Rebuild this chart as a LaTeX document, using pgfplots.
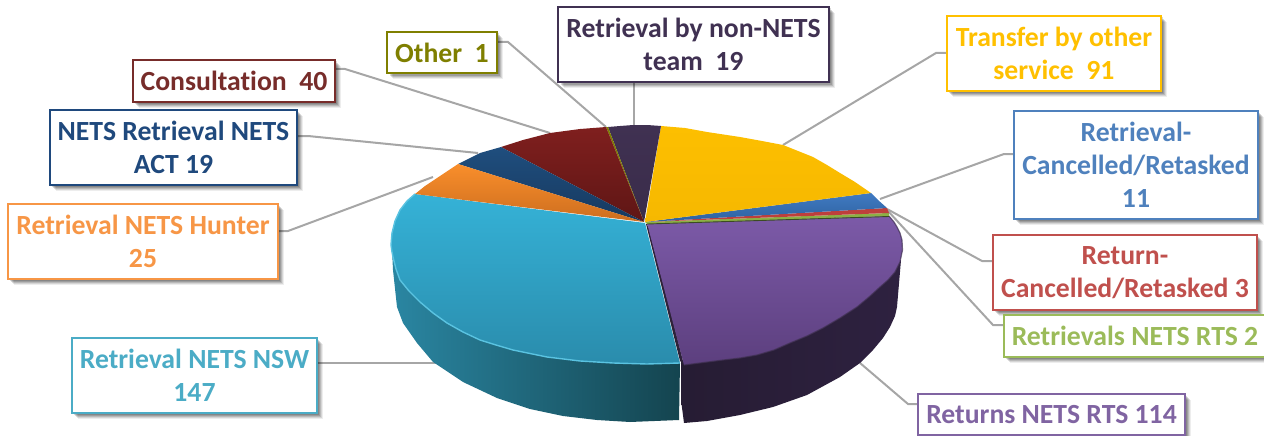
\documentclass[border=0pt]{standalone}
\usepackage{fontspec}
\setmainfont[Ligatures=NoCommon]{Carlito}
\usepackage{pgfplots}
\pgfplotsset{compat=1.18}
\usetikzlibrary{shadows}
\definecolor{cCyan}{HTML}{4BACC6}
\definecolor{cPurple}{HTML}{8064A2}
\definecolor{cYellow}{HTML}{FFC000}
\definecolor{cBlue}{HTML}{4F81BD}
\definecolor{cRed}{HTML}{C0504D}
\definecolor{cGreen}{HTML}{9BBB59}
\definecolor{cNavy}{HTML}{1F497D}
\definecolor{cOrange}{HTML}{F79646}
\definecolor{cMaroon}{HTML}{772C2A}
\definecolor{cOlive}{HTML}{7F7F00}
\definecolor{cDark}{HTML}{403152}
\definecolor{wallA}{HTML}{2A86A2}
\definecolor{wallB}{HTML}{1D6073}
\definecolor{wallC}{HTML}{14444F}
\definecolor{pwallA}{HTML}{261C33}
\definecolor{pwallB}{HTML}{2E2140}
\tikzset{
  lab/.style={draw=#1, text=#1, fill=white, line width=2pt, inner sep=0pt, align=center,
    font=\fontsize{27.7}{33}\selectfont\bfseries,
    drop shadow={shadow xshift=6pt,shadow yshift=-6pt,opacity=.07,fill=black},
    drop shadow={shadow xshift=5pt,shadow yshift=-5pt,opacity=.10,fill=black},
    drop shadow={shadow xshift=4pt,shadow yshift=-4pt,opacity=.13,fill=black},
    drop shadow={shadow xshift=3pt,shadow yshift=-3pt,opacity=.15,fill=black},
    drop shadow={shadow xshift=1.5pt,shadow yshift=-1.5pt,opacity=.15,fill=black}},
  lead/.style={draw={rgb,255:red,166;green,166;blue,166}, line width=2pt}
}
\begin{document}
\begin{tikzpicture}
\useasboundingbox (0,0) rectangle (1264pt,436pt);
\begin{axis}[
  width=1264pt, height=436pt, scale only axis, hide axis, clip=false,
  xmin=0, xmax=1264, ymin=0, ymax=436, y dir=reverse]
\addplot[draw=none, forget plot] coordinates {(0,0)(1264,436)};
% leaders
\addplot[lead] coordinates {(497,42)(508,42)(606,127)};
\addplot[lead] coordinates {(634,82)(634,126)};
\addplot[lead] coordinates {(335,69)(345,69)(550,133)};
\addplot[lead] coordinates {(297,136)(308,136)(478,153)};
\addplot[lead] coordinates {(278,231)(288,231)(433,177)};
\addplot[lead] coordinates {(317,363)(436,363)};
\addplot[lead] coordinates {(860,363)(908,404)(918,404)};
\addplot[lead] coordinates {(947,53)(936,53)(783,145)};
\addplot[lead] coordinates {(1014,154)(1004,154)(880,199)};
\addplot[lead] coordinates {(993,261)(982,261)(887,209)};
\addplot[lead] coordinates {(1004,325)(993,325)(888,211)};
% side walls
\addplot[draw=none, left color=wallA, middle color=wallB, right color=wallC] coordinates {
 (392,250)(393,270)(397,307)(403,323)(417,343)(433,362)(463,382)(497,398)(530,409)(563,416)(597,420)(630,422)(679,420)(680,363)(647,350)(500,300)(392,250)};
\addplot[draw=none, left color=pwallA, right color=pwallB] coordinates {
 (681,362)(681,400)(684,423)(707,421)(740,415)(773,407)(807,395)(840,377)(860,363)(873,350)(883,338)(890,327)(895,316)(897,307)(901,260)(800,300)(681,362)};
% tops
\addplot[draw=none, top color={rgb,255:red,53;green,178;blue,215}, bottom color={rgb,255:red,42;green,140;blue,172}] coordinates {
 (645,223)(415,194)(407,201)(400,210)(395,221)(392,233)(391,245)(392,252)(393,257)(396,269)(400,280)(409,291)(420,302)(433,313)(447,323)(463,332)(480,340)(496,345)(513,350)(547,357)(580,361)(613,363)(647,364)(680,363)};
\addplot[draw=none, fill=cDark!70!black] coordinates {(646,224)(649,224)(684,365)(680,361)};
\addplot[draw=none, top color={rgb,255:red,124;green,90;blue,168}, bottom color={rgb,255:red,92;green,63;blue,126}] coordinates {
 (647,223)(889,216)(894,222)(897,227)(900,233)(902,240)(902.5,250)(900,262)(895,272)(888,280)(880,287)(869,297)(857,307)(840,318)(823,328)(807,336)(790,343)(774,350)(757,355)(740,358)(723,360)(684,365)};
\addplot[draw=none, fill={rgb,255:red,140;green,176;blue,69}] coordinates {(645,222)(889,213)(889,216)(647,224)};
\addplot[draw=none, fill={rgb,255:red,190;green,63;blue,60}] coordinates {(645,222)(887,208)(889,213)};
\addplot[draw=none, top color={rgb,255:red,64;green,122;blue,194}, bottom color={rgb,255:red,46;green,98;blue,160}] coordinates {(645,222)(871,193)(875,197)(878,200)(887,208)};
\addplot[draw=none, top color={rgb,255:red,253;green,191;blue,0}, bottom color={rgb,255:red,246;green,184;blue,0}] coordinates {
 (645,222)(661,126)(685,128)(707,132)(740,137)(762,141)(783,145)(798,151)(813,157)(827,165)(840,173)(855,182)(871,193)};
\addplot[draw=none, top color=cDark, bottom color=cDark!90!black] coordinates {(644,222)(661,126)(647,125)(633,125)(620,126)(608,127)};
\addplot[draw=none, fill=cOlive] coordinates {(644,222)(608,127)(606,127)};
\addplot[draw=none, top color={rgb,255:red,127;green,31;blue,30}, bottom color={rgb,255:red,95;green,22;blue,21}] coordinates {
 (644,222)(606,127)(580,129)(565,131)(550,133)(523,140)(501,147)};
\addplot[draw=none, top color={rgb,255:red,31;green,78;blue,126}, bottom color={rgb,255:red,23;green,57;blue,95}] coordinates {
 (644,222)(501,147)(480,153)(458,164)};
\addplot[draw=none, top color={rgb,255:red,249;green,142;blue,43}, bottom color={rgb,255:red,205;green,110;blue,31}] coordinates {
 (644,222)(458,164)(437,178)(425,186)(415,194)};
% rim details
\addplot[line width=1.4pt, draw={rgb,255:red,90;green,195;blue,225}] coordinates {
 (415,194)(407,201)(400,210)(395,221)(392,233)(391,245)(392,252)(393,257)(396,269)(400,280)(409,291)(420,302)(433,313)(447,323)(463,332)(480,340)(496,345)(513,350)(547,357)(580,361)(613,363)(647,364)(680,363)};
\addplot[line width=1.2pt, draw=cDark, draw opacity=.7] coordinates {
 (889,216)(894,222)(897,227)(900,233)(902,240)(902.5,250)(900,262)(895,272)(888,280)(880,287)(869,297)(857,307)(840,318)(823,328)(807,336)(790,343)(774,350)(757,355)(740,358)(723,360)(684,365)};
\addplot[line width=.9pt, draw={rgb,255:red,60;green,75;blue,35}] coordinates {(647,224)(889,216.5)};
% labels
\node[lab=cOlive, minimum width=110pt, minimum height=41pt] at (axis cs:442,52.5) {Other~~1};
\node[lab=cDark, minimum width=271pt, minimum height=75pt] at (axis cs:693.5,44.5) {Retrieval by non-NETS\\team~~19};
\node[lab=cYellow, minimum width=214pt, minimum height=75pt] at (axis cs:1054,53.5) {Transfer by other\\service~~91};
\node[lab=cBlue, minimum width=244pt, minimum height=108pt] at (axis cs:1136,165) {Retrieval-\\Cancelled/Retasked\\11};
\node[lab=cRed, minimum width=264pt, minimum height=75pt] at (axis cs:1125,272.5) {Return-\\Cancelled/Retasked 3};
\node[lab=cGreen, minimum width=262pt, minimum height=42pt] at (axis cs:1135,336) {Retrievals NETS RTS 2};
\node[lab=cMaroon, minimum width=202pt, minimum height=42pt] at (axis cs:234,81) {Consultation~~40};
\node[lab=cNavy, minimum width=247pt, minimum height=75pt] at (axis cs:173.5,147.5) {NETS Retrieval NETS\\ACT 19};
\node[lab=cOrange, minimum width=270pt, minimum height=75pt] at (axis cs:143,241.5) {Retrieval NETS Hunter\\25};
\node[lab=cCyan, minimum width=245pt, minimum height=75pt] at (axis cs:194.5,375.5) {Retrieval NETS NSW\\147};
\node[lab=cPurple, minimum width=267pt, minimum height=41pt] at (axis cs:1051.5,414.5) {Returns NETS RTS 114};
\end{axis}
\end{tikzpicture}
\end{document}
